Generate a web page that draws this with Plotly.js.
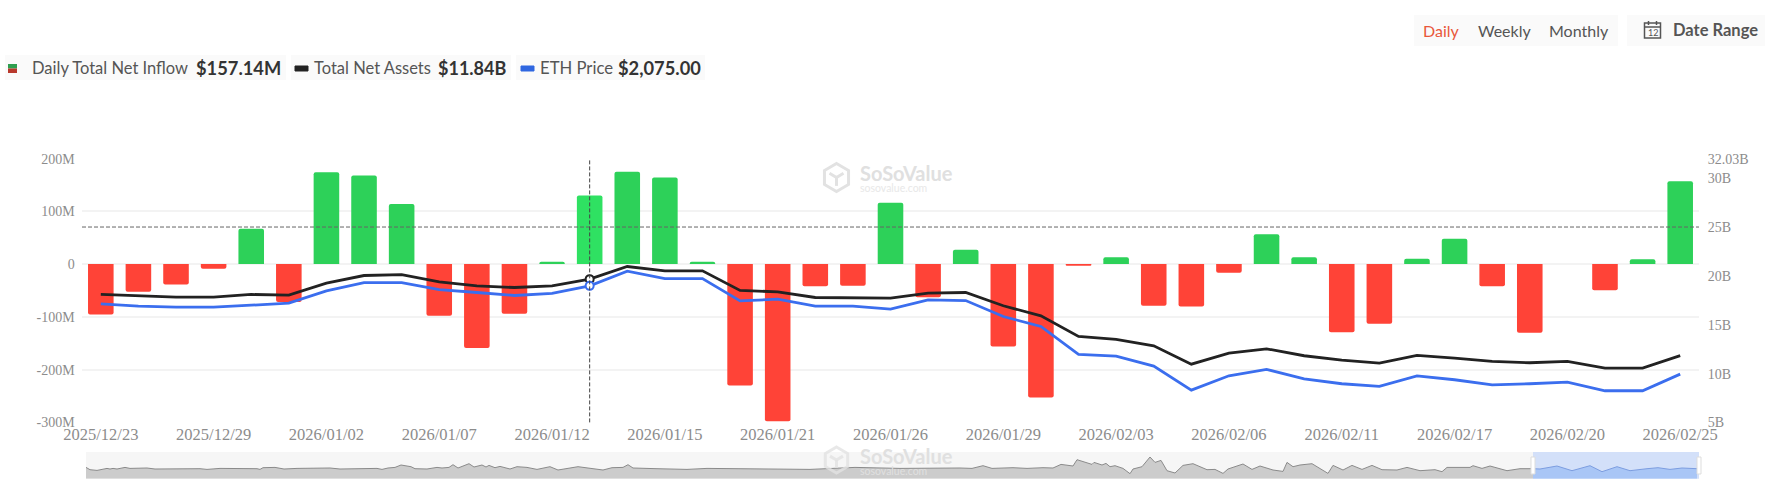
<!DOCTYPE html>
<html>
<head>
<meta charset="utf-8">
<script src="https://cdn.plot.ly/plotly-3.0.1.min.js"></script>
<style>html,body{margin:0;padding:0;background:#fff;overflow:hidden}#chart{width:1765px;height:501px}</style>
</head>
<body>
<div id="chart"></div>
<script>
const dates = ['2025/12/23','2025/12/24','2025/12/26','2025/12/29','2025/12/30','2025/12/31','2026/01/02','2026/01/05','2026/01/06','2026/01/07','2026/01/08','2026/01/09','2026/01/12','2026/01/13','2026/01/14','2026/01/15','2026/01/16','2026/01/20','2026/01/21','2026/01/22','2026/01/23','2026/01/26','2026/01/27','2026/01/28','2026/01/29','2026/01/30','2026/02/02','2026/02/03','2026/02/04','2026/02/05','2026/02/06','2026/02/09','2026/02/10','2026/02/11','2026/02/12','2026/02/13','2026/02/17','2026/02/18','2026/02/19','2026/02/20','2026/02/23','2026/02/24','2026/02/25'];
const tickDates = ['2025/12/23','2025/12/29','2026/01/02','2026/01/07','2026/01/12','2026/01/15','2026/01/21','2026/01/26','2026/01/29','2026/02/03','2026/02/06','2026/02/11','2026/02/17','2026/02/20','2026/02/25'];
const netInflow = [-95.5,-52.5,-38.6,-9,67,-72,174,168,114,-98,-159,-94,4.5,130,175,164,4.5,-230,-298,-42,-41,116.5,-63,27,-156,-253,-3,13,-79,-80.5,-16.5,56.5,13,-129,-113,10,48,-42,-130,0,-49.5,9,157.14];
const netAssets = [18.11,17.97,17.83,17.83,18.11,18.04,19.27,20.05,20.15,19.40,18.99,18.82,18.99,19.68,20.97,20.53,20.53,18.52,18.38,17.80,17.80,17.73,18.24,18.31,16.95,15.92,13.81,13.50,12.85,10.97,12.10,12.54,11.83,11.38,11.08,11.86,11.59,11.25,11.11,11.25,10.56,10.56,11.84];
const ethPrice = [2950,2921,2909,2909,2933,2958,3112,3215,3215,3128,3091,3054,3079,3174,3356,3265,3265,2987,3008,2921,2921,2884,3000,2991,2792,2668,2320,2299,2175,1876,2054,2133,2017,1955,1922,2054,2005,1942,1955,1975,1868,1868,2075];
const leftTickVals = [-300,-200,-100,0,100,200];
const leftTickText = ['-300M','-200M','-100M','0','100M','200M'];
const rightTickVals = [5,10,15,20,25,30,32.03];
const rightTickText = ['5B','10B','15B','20B','25B','30B','32.03B'];
const overviewPos = [0,4,11,17,21,24,27,31,36,39,44,61,69,94,114,121,134,171,174,177,189,198,211,244,254,291,296,302,309,315,321,325,329,341,351,356,363,367,372,377,383,388,396,400,403,409,414,424,431,441,451,464,472,492,504,517,526,537,542,547,571,601,621,704,724,769,797,814,874,886,897,906,927,941,957,967,975,987,991,1006,1008,1016,1020,1024,1029,1037,1044,1047,1056,1064,1069,1075,1081,1089,1097,1107,1121,1129,1137,1142,1157,1166,1174,1187,1197,1201,1207,1214,1226,1232,1242,1247,1257,1266,1276,1286,1296,1311,1321,1334,1349,1356,1361,1384,1387,1396,1404,1421,1434,1447,1454,1471,1486,1504,1516,1531,1544,1561,1572,1584,1596,1611];
const overviewLevel = [11.3,9,8.3,9.3,10.3,9.7,10.3,9.7,10.7,11.3,10.3,10.7,9.7,10,10,9.3,10.3,10,9.3,11,11.3,9.7,10.3,10.7,9.7,10.3,9.3,10.7,11.3,13.7,12.3,12,10,9.7,11.3,10.7,11.3,14,10.7,12.3,15,11.7,13.7,11.7,13.3,11,12.3,9.7,12,11.3,9.3,12,8.7,12,10.7,8.7,11,11.3,14,10.7,10,9.3,10.3,9.7,9.3,11.3,10.3,10.3,10.7,10.3,13,10.3,11,10.3,11,10.7,14.3,12.7,19,14.3,16.3,13.7,15.3,12,13,10.3,5,9.7,12,21.7,16.3,18.3,8,5.7,13.3,15,9,9.3,5.3,9.7,14.7,9.3,12.7,8.7,7.3,16.3,12,13.7,15,11.3,5.3,13.3,8.7,13.3,9.3,13.3,9,8.7,11.3,8,9,7,11.3,11.3,13,10.3,12.7,8,10,10,9.7,12.7,8,13,7,12,8,10,11,9.3,10.7,10];
const selectionStart = 1447;
const W = 1765, H = 501;
const px = x => x / W;
const py = y => 1 - y / H;
const FONT = 'Lato, "Open Sans", sans-serif';
const SERIF = '"Liberation Serif", serif';
const GREEN = '#2DD159', RED = '#FF4337';
const TOP = 158.6, BOTTOM = 422.4;

const barColors = netInflow.map((v, i) => i === 13 ? '#2FE162' : (v >= 0 ? GREEN : RED));
const before = overviewPos.map((p, i) => i).filter(i => overviewPos[i] <= selectionStart);
const after = overviewPos.map((p, i) => i).filter(i => overviewPos[i] >= selectionStart);

const traces = [
  {type:'bar', x:dates, y:netInflow, marker:{color:barColors, line:{width:0}}, yaxis:'y', xaxis:'x', name:'Daily Total Net Inflow', hoverinfo:'skip'},
  {type:'scatter', mode:'lines', x:dates, y:netAssets, yaxis:'y2', xaxis:'x', line:{color:'#222222', width:2.8}, name:'Total Net Assets', hoverinfo:'skip'},
  {type:'scatter', mode:'lines', x:dates, y:ethPrice, yaxis:'y3', xaxis:'x', line:{color:'#3B6EEE', width:2.8}, name:'ETH Price', hoverinfo:'skip'},
  {type:'scatter', mode:'markers', x:[dates[13]], y:[netAssets[13]], yaxis:'y2', xaxis:'x', marker:{size:8, color:'#fff', line:{color:'#222222', width:2}}, hoverinfo:'skip'},
  {type:'scatter', mode:'markers', x:[dates[13]], y:[ethPrice[13]], yaxis:'y3', xaxis:'x', marker:{size:8, color:'#fff', line:{color:'#3B6EEE', width:2}}, hoverinfo:'skip'},
  {type:'scatter', mode:'lines', x:before.map(i=>overviewPos[i]), y:before.map(i=>overviewLevel[i]), xaxis:'x2', yaxis:'y4', fill:'tozeroy', fillcolor:'#CCCCCC', line:{color:'#8A8A8A', width:1}, hoverinfo:'skip'},
  {type:'scatter', mode:'lines', x:after.map(i=>overviewPos[i]), y:after.map(i=>overviewLevel[i]), xaxis:'x2', yaxis:'y4', fill:'tozeroy', fillcolor:'#A9C6F6', line:{color:'#7C9DE0', width:1}, hoverinfo:'skip'}
];

function rect(x0,y0,x1,y1,fill,layer,line){
  return {type:'rect', xref:'paper', yref:'paper', x0:px(x0), x1:px(x1), y0:py(y0), y1:py(y1), fillcolor:fill, line:line||{width:0}, layer:layer||'below'};
}
function pathOf(pts, close){
  return 'M ' + pts.map(p => px(p[0]) + ' ' + py(p[1])).join(' L ') + (close ? ' Z' : '');
}
function logo(cx, cy, r, color, layer){
  const hex = [[cx,cy-r],[cx+r*0.86,cy-r*0.5],[cx+r*0.86,cy+r*0.5],[cx,cy+r],[cx-r*0.86,cy+r*0.5],[cx-r*0.86,cy-r*0.5]];
  const ln = {color:color, width:3};
  return [
    {type:'path', xref:'paper', yref:'paper', path:pathOf(hex,true), line:ln, layer:layer},
    {type:'path', xref:'paper', yref:'paper', path:pathOf([[cx-r*0.5,cy-r*0.3],[cx,cy],[cx+r*0.5,cy-r*0.3]],false), line:ln, layer:layer},
    {type:'path', xref:'paper', yref:'paper', path:pathOf([[cx,cy],[cx,cy+r*0.6]],false), line:ln, layer:layer}
  ];
}
function ann(text,x,y,size,color,weight,anchor,family){
  return {text:text, xref:'paper', yref:'paper', x:px(x), y:py(y), xanchor:anchor||'left', yanchor:'middle', showarrow:false, borderpad:0,
    font:{family:family||FONT, size:size, color:color, weight:weight||400}};
}

const shapes = [
  rect(5,55,286,80,'#FAFAFA'), rect(291,55,511,80,'#FAFAFA'), rect(516,55,705,80,'#FAFAFA'),
  rect(1414,15,1618,46,'#FAFAFA'), rect(1627,15,1765,46,'#FAFAFA'),
  rect(8,64,17,68.5,'#2E9E4F'), rect(8,68.5,17,73,'#B8382C'),
  {type:'rect', xref:'paper', yref:'paper', x0:px(295), x1:px(308), y0:py(66), y1:py(71), fillcolor:'#222222', line:{color:'#222222',width:1}, layer:'below'},
  {type:'rect', xref:'paper', yref:'paper', x0:px(521), x1:px(534), y0:py(66), y1:py(71), fillcolor:'#2F66E0', line:{color:'#2F66E0',width:1}, layer:'below'},
  rect(1644.5,23,1660.5,38,'rgba(0,0,0,0)','above',{color:'#555',width:1.5}),
  {type:'line', xref:'paper', yref:'paper', x0:px(1644.5), x1:px(1660.5), y0:py(27), y1:py(27), line:{color:'#555',width:1.5}},
  {type:'line', xref:'paper', yref:'paper', x0:px(1648.5), x1:px(1648.5), y0:py(21), y1:py(25), line:{color:'#555',width:1.5}},
  {type:'line', xref:'paper', yref:'paper', x0:px(1656.5), x1:px(1656.5), y0:py(21), y1:py(25), line:{color:'#555',width:1.5}},
  rect(86,452,1533,478.7,'#F6F6F6'),
  rect(1533,452,1699,478.7,'#D3E0F9'),
  ...logo(836.5,177.5,14,'#E2E2E2','below'),
  ...logo(836.5,460,13,'rgba(226,226,226,0.8)','above'),
  {type:'rect', xref:'paper', yref:'paper', x0:px(1531), x1:px(1535), y0:py(457), y1:py(474), fillcolor:'#fff', line:{color:'#DDD',width:1}, layer:'above'},
  {type:'rect', xref:'paper', yref:'paper', x0:px(1697), x1:px(1701), y0:py(457), y1:py(474), fillcolor:'#fff', line:{color:'#DDD',width:1}, layer:'above'},
  {type:'line', xref:'paper', yref:'y', x0:px(82), x1:px(1699), y0:70.3, y1:70.3, line:{color:'#666',width:1,dash:'4px,2px'}, layer:'above'},
  {type:'line', xref:'x', yref:'paper', x0:dates[13], x1:dates[13], y0:py(BOTTOM), y1:py(160), line:{color:'#444',width:1,dash:'4px,2px'}, layer:'above'}
];

const annotations = [
  ann('Daily Total Net Inflow',31,68,16.5,'#555'),
  ann('$157.14M',195,68,18.3,'#333',700),
  ann('Total Net Assets',312.6,68,16.5,'#555'),
  ann('$11.84B',436.7,68,18,'#333',700),
  ann('ETH Price',539,68,16.7,'#555'),
  ann('$2,075.00',616.6,68,18.3,'#333',700),
  ann('Daily',1422,30,16,'#E9573B'),
  ann('Weekly',1477,30,16,'#555'),
  ann('Monthly',1548,30,16,'#555'),
  ann('12',1652.5,32.5,9,'#555',400,'center'),
  ann('Date Range',1672,30,16.5,'#555',700),
  ann('SoSoValue',858.6,173,20,'#E0E0E0',700),
  ann('sosovalue.com',858.6,188,10.5,'#E8E8E8'),
  ann('SoSoValue',858.6,456,20,'#E0E0E0',700),
  ann('sosovalue.com',858.6,471,10.5,'#E0E0E0')
];

const plotDomainX = [px(82), px(1699)];
const layout = {
  width:W, height:H, margin:{l:0,r:0,t:0,b:0,pad:0}, autosize:false,
  paper_bgcolor:'#fff', plot_bgcolor:'rgba(0,0,0,0)', showlegend:false, dragmode:false,
  barmode:'relative', bargap:0.32, barcornerradius:2, hovermode:false,
  xaxis:{type:'category', domain:plotDomainX, anchor:'y', categoryorder:'array', categoryarray:dates, range:[-0.5,42.5],
    tickmode:'array', tickvals:tickDates, ticktext:tickDates, tickangle:0, showgrid:false, zeroline:false, showline:false,
    ticks:'', ticklabelstandoff:0, tickfont:{family:SERIF,size:16.5,color:'#8C8C8C'}},
  yaxis:{domain:[py(BOTTOM),py(TOP)], anchor:'x', range:[-300,200], tickmode:'array', tickvals:leftTickVals, ticktext:leftTickText,
    showgrid:true, gridcolor:'#F3F3F3', gridwidth:2, zeroline:true, zerolinecolor:'#F3F3F3', zerolinewidth:2, showline:false,
    ticks:'outside', ticklen:3.5, tickcolor:'rgba(0,0,0,0)', tickfont:{family:SERIF,size:14,color:'#8C8C8C'}},
  yaxis2:{domain:[py(BOTTOM),py(TOP)], anchor:'x', overlaying:'y', side:'right', range:[5,32.03], tickmode:'array', tickvals:rightTickVals, ticktext:rightTickText,
    showgrid:false, zeroline:false, showline:false, ticks:'outside', ticklen:5, tickcolor:'rgba(0,0,0,0)', tickfont:{family:SERIF,size:14,color:'#8C8C8C'}},
  yaxis3:{domain:[py(BOTTOM),py(TOP)], anchor:'x', overlaying:'y', side:'right', range:[1474,4758], visible:false},
  xaxis2:{domain:[px(86),px(1699)], anchor:'y4', range:[0,1613], visible:false},
  yaxis4:{domain:[py(478.7),py(452)], anchor:'x2', range:[0,26.7], visible:false},
  shapes:shapes, annotations:annotations
};
Plotly.newPlot('chart', traces, layout, {displayModeBar:false, staticPlot:true, responsive:false});
</script>
</body>
</html>
